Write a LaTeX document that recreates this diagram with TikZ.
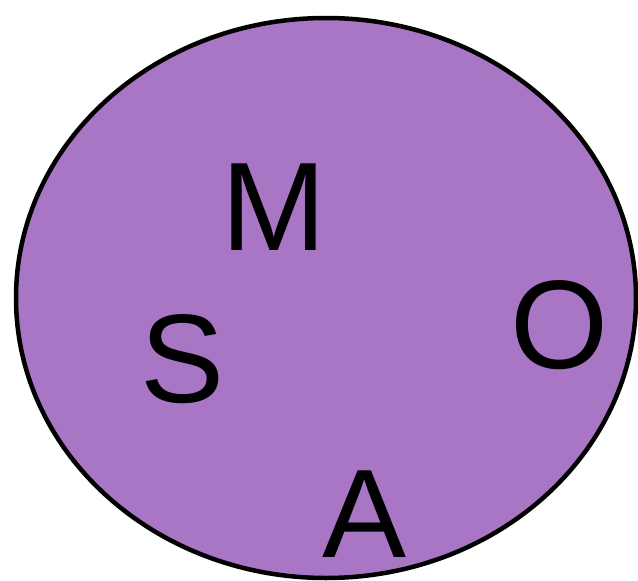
\documentclass[tikz,border=0pt]{standalone}
\usepackage{fontspec}
\setmainfont{Liberation Sans}
\definecolor{fillpurple}{RGB}{168,118,196}
\begin{document}
\begin{tikzpicture}[x=1pt,y=-1pt,
  letter/.style={anchor=base,inner sep=0pt,font=\fontsize{126}{126}\selectfont}]
\useasboundingbox (0,0) rectangle (638,581);
\draw[line width=4.5pt,fill=fillpurple] (326,298) ellipse [x radius=310, y radius=280];
\node[letter] (m) at (274,250) {M};
\node[letter] (s) at (183,402) {S};
\node[letter] (o) at (559,368) {O};
\node[letter] (a) at (365,557) {A};
\end{tikzpicture}
\end{document}
